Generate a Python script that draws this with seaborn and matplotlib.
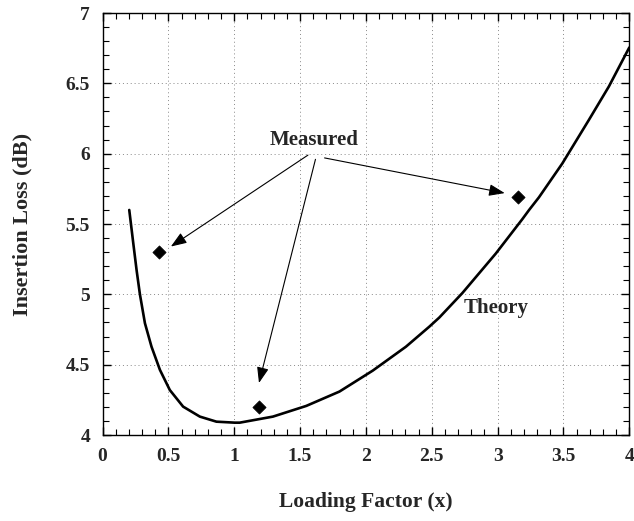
import matplotlib
matplotlib.use("Agg")
import matplotlib.pyplot as plt
import seaborn as sns
import pandas as pd
from matplotlib.ticker import MultipleLocator

sns.set_theme(style="ticks")
plt.rcParams['font.family'] = ['Liberation Serif', 'DejaVu Serif']

# Theory curve
theory_x = [0.203, 0.234, 0.259, 0.284, 0.322, 0.372, 0.436, 0.511, 0.612, 0.739,
            0.865, 1.004, 1.042, 1.294, 1.547, 1.799, 2.052, 2.304, 2.481, 2.557,
            2.733, 2.986, 3.188, 3.239, 3.314, 3.491, 3.693, 3.845, 3.983, 4.0]
theory_y = [5.600, 5.360, 5.170, 5.000, 4.795, 4.628, 4.463, 4.320, 4.202, 4.131,
            4.095, 4.088, 4.088, 4.131, 4.207, 4.309, 4.458, 4.628, 4.770, 4.835,
            5.010, 5.290, 5.535, 5.600, 5.690, 5.930, 6.240, 6.478, 6.725, 6.755]

# Measured points
meas_x = [0.426, 1.186, 3.153]
meas_y = [5.30, 4.198, 5.694]

xticks = [0, 0.5, 1, 1.5, 2, 2.5, 3, 3.5, 4]
xticklabels = ["0", "0.5", "1", "1.5", "2", "2.5", "3", "3.5", "4"]
yticks = [4, 4.5, 5, 5.5, 6, 6.5, 7]
yticklabels = ["4", "4.5", "5", "5.5", "6", "6.5", "7"]

theory = pd.DataFrame({"x": theory_x, "y": theory_y})
meas = pd.DataFrame({"x": meas_x, "y": meas_y})

fig = plt.figure(figsize=(6.34, 5.21), dpi=100)
ax = fig.add_axes([0.1617, 0.165, 0.8309, 0.810])

sns.lineplot(data=theory, x="x", y="y", ax=ax, color="black", linewidth=1.9,
             sort=False, estimator=None)
sns.scatterplot(data=meas, x="x", y="y", ax=ax, marker="D", s=45,
                color="black", edgecolor="black", zorder=5)

ax.set_xlim(0, 4)
ax.set_ylim(4, 7)
ax.set_xticks(xticks)
ax.set_xticklabels(xticklabels)
ax.set_yticks(yticks)
ax.set_yticklabels(yticklabels)
ax.xaxis.set_minor_locator(MultipleLocator(0.1))
ax.yaxis.set_minor_locator(MultipleLocator(0.1))
ax.tick_params(which="both", direction="in", top=True, right=True, bottom=True, left=True,
               color="black")
ax.tick_params(which="major", length=6, width=1.0, labelsize=14, pad=9)
ax.tick_params(which="minor", length=4, width=0.8)
for lab in ax.get_xticklabels() + ax.get_yticklabels():
    lab.set_fontweight("bold")

ax.grid(True, which="major", linestyle=(0, (1, 3)), color="#888888", linewidth=0.7)
for s in ax.spines.values():
    s.set_visible(True)
    s.set_color("black")
    s.set_linewidth(1.0)

ax.set_xlabel("Loading Factor (x)", fontsize=15.5, fontweight="bold", labelpad=20)
ax.set_ylabel("Insertion Loss (dB)", fontsize=16, fontweight="bold", labelpad=24)

ax.text(1.61, 6.10, "Measured", ha="center", va="center", fontsize=15, fontweight="bold")
ax.text(2.99, 4.90, "Theory", ha="center", va="center", fontsize=15, fontweight="bold")

arrow = dict(arrowstyle="-|>,head_length=0.8,head_width=0.3", color="black", lw=0.8,
             shrinkA=0, shrinkB=0)
ax.annotate("", xy=(0.519, 5.34), xytext=(1.56, 5.99), arrowprops=arrow)
ax.annotate("", xy=(1.188, 4.37), xytext=(1.617, 5.96), arrowprops=arrow)
ax.annotate("", xy=(3.054, 5.72), xytext=(1.686, 5.97), arrowprops=arrow)

fig.savefig("out.png", dpi=100)
